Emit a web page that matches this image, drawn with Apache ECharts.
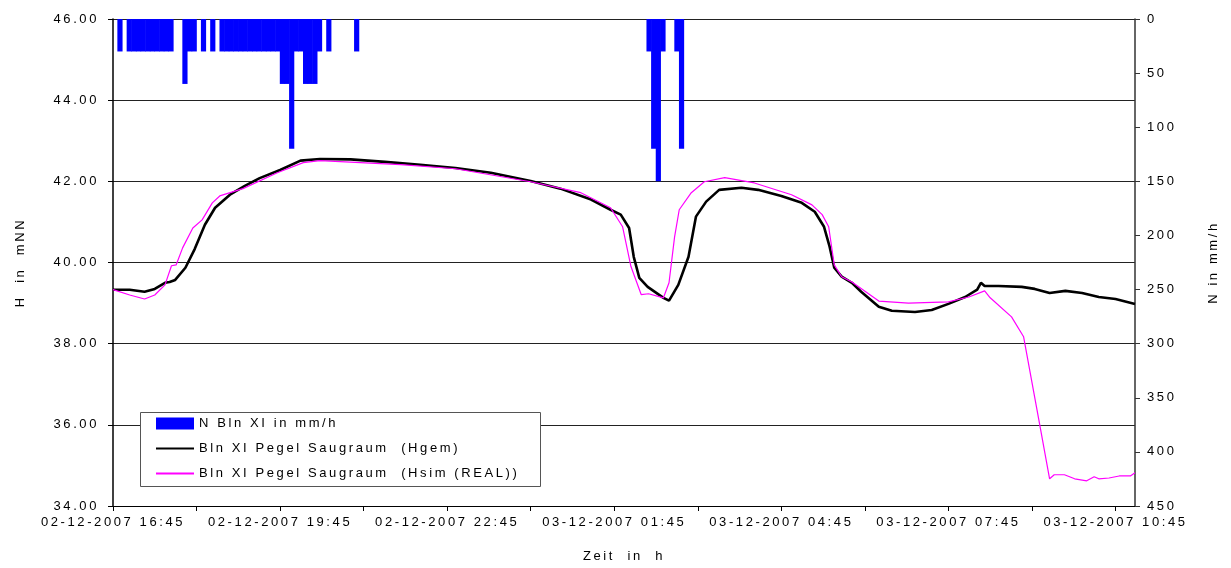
<!DOCTYPE html>
<html><head><meta charset="utf-8">
<script src="https://cdn.jsdelivr.net/npm/echarts@6/dist/echarts.min.js"></script>
<style>html,body{margin:0;padding:0;background:#fff}#c{width:1231px;height:568px}</style>
</head><body><div id="c"></div>
<script>
// ---- Data (x values are minutes after 02-12-2007 16:45) ----
const hgemMin = [0,18,34,45,56,61,67,78,88,99,110,126,142,158,180,202,223,256,293,331,369,407,450,482,515,536,547,556,561,567,576,593,599,609,620,628,639,653,677,695,720,742,756,766,772,777,785,796,806,825,839,864,882,900,918,931,935,939,954,979,993,1009,1026,1044,1062,1080,1101];
const hgemVal = [39.33,39.33,39.28,39.35,39.50,39.52,39.57,39.87,40.33,40.93,41.35,41.67,41.89,42.08,42.28,42.51,42.55,42.54,42.48,42.41,42.33,42.21,42.01,41.82,41.55,41.30,41.18,40.85,40.14,39.62,39.40,39.13,39.06,39.45,40.14,41.13,41.50,41.79,41.84,41.79,41.64,41.47,41.25,40.88,40.39,39.87,39.65,39.50,39.28,38.91,38.81,38.78,38.83,38.98,39.15,39.33,39.50,39.42,39.42,39.40,39.35,39.25,39.30,39.25,39.15,39.10,38.98];
const hsimMin = [0,18,34,45,56,63,68,75,86,96,107,115,140,177,205,223,310,369,450,504,536,549,558,569,577,593,599,605,610,623,637,659,691,731,753,764,771,777,785,796,825,857,900,922,939,945,968,981,998,1009,1014,1025,1036,1049,1057,1062,1073,1084,1096,1101];
const hsimVal = [39.33,39.20,39.10,39.20,39.45,39.92,39.94,40.36,40.85,41.05,41.47,41.64,41.82,42.21,42.46,42.51,42.41,42.31,41.99,41.72,41.35,40.88,39.90,39.21,39.23,39.13,39.50,40.63,41.30,41.72,41.99,42.09,41.96,41.67,41.42,41.18,40.88,39.94,39.65,39.52,39.05,39.00,39.03,39.15,39.30,39.13,38.66,38.17,36.05,34.67,34.77,34.77,34.67,34.62,34.72,34.67,34.69,34.74,34.74,34.82];
// rainfall: start minute of each 5-minute interval and intensity in mm/h
const rainStartMin = [5,15,20,25,30,35,40,45,50,55,60,75,80,85,95,105,115,120,125,130,135,140,145,150,155,160,165,170,175,180,185,190,195,200,205,210,215,220,230,260,575,580,585,590,605,610];
const rainVal =      [30,30,30,30,30,30,30,30,30,30,30,60,30,30,30,30,30,30,30,30,30,30,30,30,30,30,30,30,30,60,60,120,30,30,60,60,60,30,30,30,30,120,150,30,30,120];
const leftMin = 34, leftMax = 46, leftStep = 2;
const rightMin = 0, rightMax = 450, rightStep = 50;
const xMax = 1101, xTick = 90, xLabelStep = 180;
const startDay = 2, startClock = 16 * 60 + 45;

// wide letter spacing like the original chart
(function () {
  const p = CanvasRenderingContext2D.prototype, f = p.fillText;
  p.fillText = function () { try { this.letterSpacing = '2.6px'; } catch (e) {} return f.apply(this, arguments); };
})();

function pad(n) { return (n < 10 ? '0' : '') + n; }
function fmtTime(v) {
  const t = startClock + Math.round(v);
  const day = startDay + Math.floor(t / 1440), r = t % 1440;
  return pad(day) + '-12-2007 ' + pad(Math.floor(r / 60)) + ':' + pad(r % 60);
}
const FONT = "'Liberation Sans', Arial, sans-serif";
const txt = { color: '#000', fontFamily: FONT, fontSize: 13 };

const chart = echarts.init(document.getElementById('c'), null, { renderer: 'canvas' });
chart.setOption({
  animation: false,
  backgroundColor: '#fff',
  textStyle: txt,
  grid: { left: 113, right: 96, top: 19, bottom: 62 },
  graphic: [{
    type: 'rect', left: 140, top: 412, z: 3,
    shape: { width: 400, height: 74 },
    style: { fill: '#fff', stroke: '#555', lineWidth: 1 }
  }],
  legend: {
    orient: 'vertical', left: 155, top: 417, z: 10,
    itemWidth: 38, itemHeight: 12, itemGap: 12,
    textStyle: txt, padding: 0, selectedMode: false,
    data: [
      { name: 'N Bln XI in mm/h', icon: 'rect' },
      { name: 'Bln XI Pegel Saugraum  (Hgem)', itemStyle: { opacity: 0 } },
      { name: 'Bln XI Pegel Saugraum  (Hsim (REAL))', itemStyle: { opacity: 0 } }
    ]
  },
  xAxis: {
    type: 'value', min: 0, max: xMax, interval: xTick,
    name: 'Zeit  in  h', nameLocation: 'middle', nameGap: 44, nameTextStyle: txt,
    axisLine: { show: true, onZero: false, lineStyle: { color: '#000', width: 1 } },
    axisTick: { show: true, length: 5, lineStyle: { color: '#000' } },
    splitLine: { show: false },
    axisLabel: Object.assign({ margin: 10, showMaxLabel: false,
      formatter: v => (v % xLabelStep === 0 ? fmtTime(v) : '') }, txt)
  },
  yAxis: [{
    type: 'value', min: leftMin, max: leftMax, interval: leftStep, position: 'left',
    name: 'H  in  mNN', nameLocation: 'middle', nameGap: 86, nameRotate: 90, nameTextStyle: txt,
    axisLine: { show: true, lineStyle: { color: '#000', width: 1.5 } },
    axisTick: { show: true, length: 5, lineStyle: { color: '#000' } },
    splitLine: { show: true, lineStyle: { color: '#222', width: 1 } },
    axisLabel: Object.assign({ margin: 14, formatter: v => v.toFixed(2) }, txt)
  }, {
    type: 'value', min: rightMin, max: rightMax, interval: rightStep, position: 'right', inverse: true,
    name: 'N in mm/h', nameLocation: 'middle', nameGap: 72, nameRotate: 90, nameTextStyle: txt,
    axisLine: { show: true, lineStyle: { color: '#333', width: 1.5 } },
    axisTick: { show: true, length: 5, lineStyle: { color: '#333' } },
    splitLine: { show: false },
    axisLabel: Object.assign({ margin: 12 }, txt)
  }],
  series: [{
    name: 'N Bln XI in mm/h', type: 'bar', yAxisIndex: 1, barWidth: 5.2,
    itemStyle: { color: '#0000ff' },
    data: rainStartMin.map((m, i) => [m + 2.5, rainVal[i]])
  }, {
    name: 'Bln XI Pegel Saugraum  (Hgem)', type: 'line', yAxisIndex: 0, symbol: 'none',
    lineStyle: { color: '#000', width: 2.6 }, itemStyle: { color: '#000' }, z: 4,
    data: hgemMin.map((m, i) => [m, hgemVal[i]])
  }, {
    name: 'Bln XI Pegel Saugraum  (Hsim (REAL))', type: 'line', yAxisIndex: 0, symbol: 'none',
    lineStyle: { color: '#ff00ff', width: 1.2 }, itemStyle: { color: '#ff00ff' }, z: 5,
    data: hsimMin.map((m, i) => [m, hsimVal[i]])
  }]
});
</script>
</body></html>
